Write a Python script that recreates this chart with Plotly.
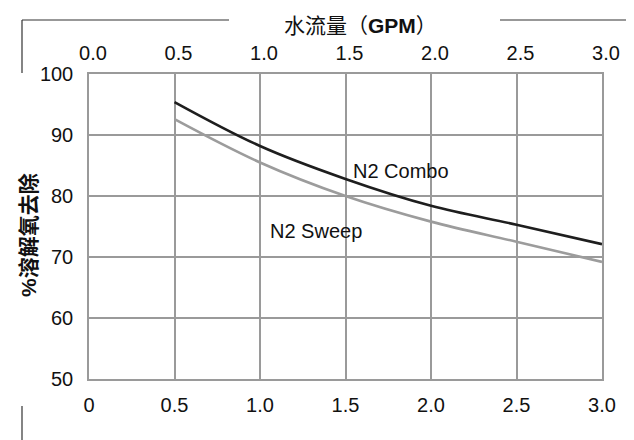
import plotly.graph_objects as go

flow = [0.5, 1.0, 1.5, 2.0, 2.5, 3.0]
combo = [95.4, 88.2, 82.8, 78.4, 75.3, 72.1]
sweep = [92.6, 85.5, 80.0, 75.8, 72.5, 69.2]
x_ticks = [0, 0.5, 1.0, 1.5, 2.0, 2.5, 3.0]
x_bottom_labels = ["0", "0.5", "1.0", "1.5", "2.0", "2.5", "3.0"]
x_top_labels = ["0.0", "0.5", "1.0", "1.5", "2.0", "2.5", "3.0"]
y_ticks = [50, 60, 70, 80, 90, 100]

W, H = 634, 440
L, R, T, B = 81, 594, 66, 371

def px(x):
    return (x - L) / (R - L)

def py(y):
    return (B - y) / (B - T)

font = "Liberation Sans, Arial, Noto Sans CJK SC, sans-serif"
grid = "#9a9a9a"

fig = go.Figure()
fig.add_trace(go.Scatter(x=flow, y=combo, mode="lines", line=dict(color="#1e1e1e", width=2.6, shape="spline"),
                         showlegend=False))
fig.add_trace(go.Scatter(x=flow, y=sweep, mode="lines", line=dict(color="#9c9c9c", width=2.6, shape="spline"),
                         showlegend=False))
# invisible trace to activate the top axis
fig.add_trace(go.Scatter(x=[0, 3], y=[50, 50], mode="markers", marker=dict(opacity=0), xaxis="x2",
                         showlegend=False, hoverinfo="skip"))

fig.update_layout(
    width=W, height=H,
    margin=dict(l=L, r=W - R, t=T, b=H - B),
    paper_bgcolor="white", plot_bgcolor="white",
    font=dict(family=font, size=20, color="#111111"),
    xaxis=dict(range=[0, 3], tickvals=x_ticks, ticktext=x_bottom_labels, showgrid=True, gridcolor=grid, gridwidth=1.5,
               showline=True, linecolor=grid, linewidth=1.5, mirror=True, ticks="", zeroline=False,
               ticklabelstandoff=7),
    xaxis2=dict(range=[0, 3], overlaying="x", side="top", tickvals=x_ticks, ticktext=x_top_labels,
                showgrid=False, showline=False, ticks="", zeroline=False, ticklabelstandoff=9, ticklabelshift=4),
    yaxis=dict(range=[50, 100], tickvals=y_ticks, showgrid=True, gridcolor=grid, gridwidth=1.5,
               showline=True, linecolor=grid, linewidth=1.5, mirror=True, ticks="", zeroline=False,
               ticklabelstandoff=10),
)

fig.add_annotation(x=1.53, y=84.1, xref="x", yref="y", text="N2 Combo", showarrow=False, xanchor="left",
                   yanchor="middle", font=dict(size=20))
fig.add_annotation(x=1.045, y=74.3, xref="x", yref="y", text="N2 Sweep", showarrow=False, xanchor="left",
                   yanchor="middle", font=dict(size=20))

# titles
fig.add_annotation(x=px(352), y=py(18), xref="paper", yref="paper", text="水流量（<b>GPM</b>）", showarrow=False,
                   xanchor="center", yanchor="middle", font=dict(size=21))
fig.add_annotation(x=px(20), y=py(227), xref="paper", yref="paper", text="<b>%溶解氧去除</b>", showarrow=False,
                   xanchor="center", yanchor="middle", textangle=-90, font=dict(size=21))
fig.add_annotation(x=px(345), y=py(432), xref="paper", yref="paper", text="3", showarrow=False,
                   xanchor="center", yanchor="top", font=dict(size=13))

# decorative frame lines
line_style = dict(color="#333333", width=1.2)
fig.add_shape(type="line", xref="paper", yref="paper", x0=px(14), x1=px(221), y0=py(12), y1=py(12), line=line_style)
fig.add_shape(type="line", xref="paper", yref="paper", x0=px(492), x1=px(634), y0=py(12), y1=py(12), line=line_style)
fig.add_shape(type="line", xref="paper", yref="paper", x0=px(14), x1=px(14), y0=py(12), y1=py(65), line=line_style)
fig.add_shape(type="line", xref="paper", yref="paper", x0=px(14), x1=px(14), y0=py(398), y1=py(440), line=line_style)

fig.write_html("out.html")
